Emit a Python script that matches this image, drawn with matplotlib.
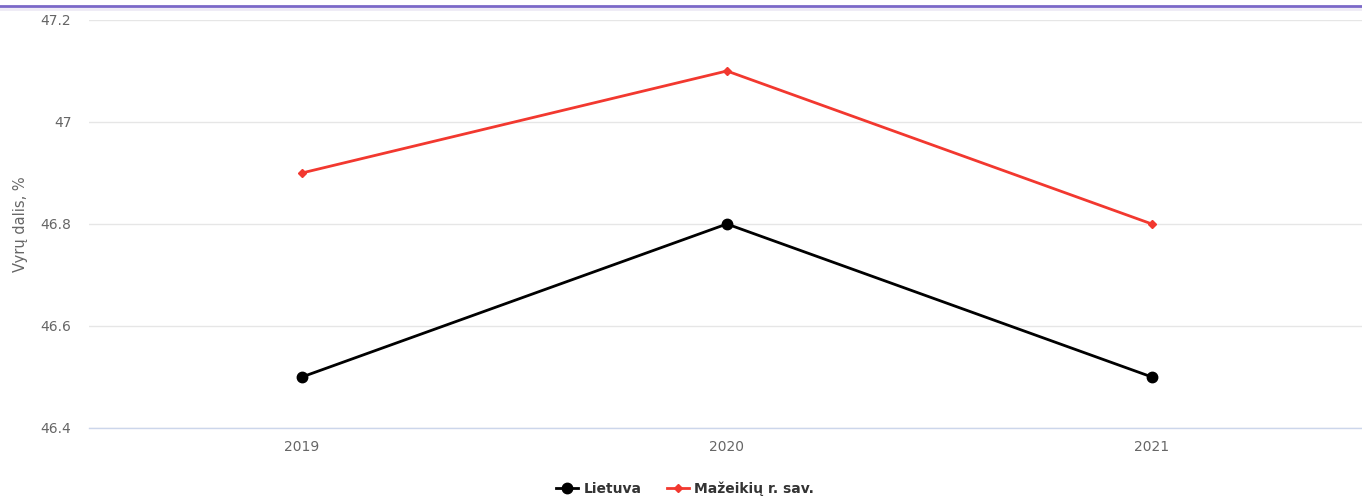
import matplotlib

matplotlib.use("Agg")
import matplotlib.pyplot as plt
from matplotlib.lines import Line2D

years = ["2019", "2020", "2021"]
lietuva = [46.5, 46.8, 46.5]
mazeikiai = [46.9, 47.1, 46.8]
series_names = ["Lietuva", "Mažeikių r. sav."]
y_ticks = [46.4, 46.6, 46.8, 47.0, 47.2]
y_tick_labels = ["46.4", "46.6", "46.8", "47", "47.2"]

plt.rcParams["font.family"] = ["DejaVu Sans"]

fig = plt.figure(figsize=(13.62, 4.98), dpi=100)
ax = fig.add_axes([0.0657, 0.1406, 0.936, 0.8193])

x = range(len(years))
ax.plot(x, lietuva, color="#000000", lw=2.0, marker="o", markersize=7.5,
        label=series_names[0], zorder=3)
ax.plot(x, mazeikiai, color="#f2382f", lw=2.0, marker="D", markersize=4.5,
        label=series_names[1], zorder=3)

ax.set_xlim(-0.5, 2.5)
ax.set_ylim(46.4, 47.2)
ax.set_xticks(list(x))
ax.set_xticklabels(years)
ax.set_yticks(y_ticks)
ax.set_yticklabels(y_tick_labels)
ax.tick_params(axis="both", length=0, labelsize=10, labelcolor="#666666")
ax.tick_params(axis="x", pad=9)
ax.tick_params(axis="y", pad=13)
ax.grid(axis="y", color="#e6e6e6", lw=1)
ax.set_axisbelow(True)
for side in ["top", "right", "left"]:
    ax.spines[side].set_visible(False)
ax.spines["bottom"].set_color("#ccd6eb")
ax.spines["bottom"].set_linewidth(1)

ax.set_ylabel("Vyrų dalis, %", color="#666666", fontsize=10.5)
ax.yaxis.set_label_coords(-0.048, 0.5)

leg = fig.legend(loc="center", bbox_to_anchor=(0.503, 0.018), ncol=2,
                 frameon=False, fontsize=10, handlelength=1.6,
                 columnspacing=1.8, handletextpad=0.4)
for t in leg.get_texts():
    t.set_fontweight("bold")
    t.set_color("#333333")

fig.add_artist(Line2D([0, 1], [0.988, 0.988], color="#7b68c8", lw=2,
                      transform=fig.transFigure))
fig.add_artist(Line2D([0, 1], [0.982, 0.982], color="#eeeaf5", lw=2,
                      transform=fig.transFigure))

fig.savefig("out.png", dpi=100)
